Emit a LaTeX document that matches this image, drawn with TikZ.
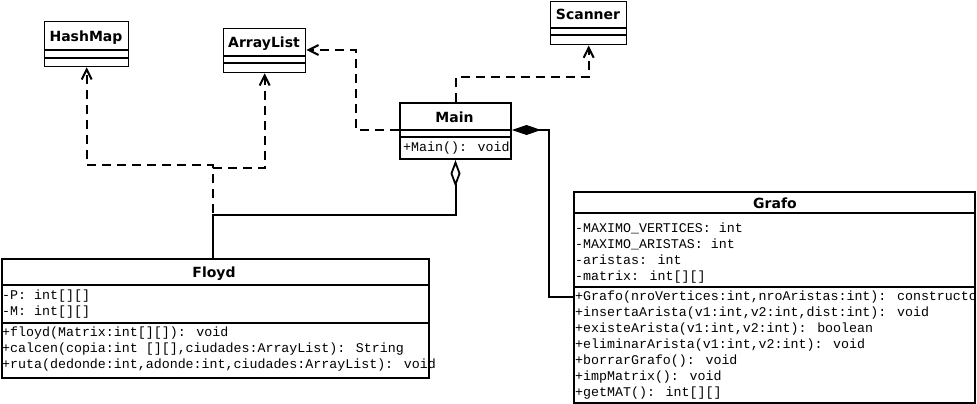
\documentclass[tikz,border=0pt]{standalone}
\usepackage{fontspec}
\usetikzlibrary{arrows.meta,calc}
\newfontfamily\ttlfont{DejaVu Sans}
\newfontfamily\memfont{Liberation Mono}
\begin{document}
\begin{tikzpicture}[x=1pt,y=-1pt,
  thinbox/.style={draw,line width=1.3pt,inner sep=0pt,anchor=north west},
  thickbox/.style={draw,line width=2pt,inner sep=0pt,anchor=north west},
  ttl/.style={anchor=base,inner sep=0pt,font=\ttlfont\bfseries\fontsize{14}{16}\selectfont},
  mem/.style={anchor=base west,inner sep=0pt,font=\memfont\fontsize{13.3}{16}\selectfont},
  dep/.style={line width=2pt,dash pattern=on 9pt off 6pt,-{Straight Barb[length=10pt,width=10pt,line width=2pt]}},
  agg/.style={line width=2pt,-{Diamond[open,fill=white,length=27pt,width=10pt,line width=1.8pt]}},
  comp/.style={line width=2pt,-{Diamond[fill=black,length=29pt,width=10pt,line width=1pt]}}]
\useasboundingbox (0,0) rectangle (977,404);
\fill[white] (0,0) rectangle (977,404);

% HashMap
\node[thinbox,minimum width=84pt,minimum height=45pt] (hashmap) at (44,21) {};
\draw[line width=1.3pt] (hashmap.west |- 0,50) -- (hashmap.east |- 0,50);
\draw[line width=1.3pt] (hashmap.west |- 0,58) -- (hashmap.east |- 0,58);
\node[ttl] (hashmapT) at (86,42) {HashMap};

% ArrayList
\node[thinbox,minimum width=82pt,minimum height=44pt] (arraylist) at (223,28) {};
\draw[line width=1.3pt] (arraylist.west |- 0,56) -- (arraylist.east |- 0,56);
\draw[line width=1.3pt] (arraylist.west |- 0,63) -- (arraylist.east |- 0,63);
\node[ttl] (arraylistT) at (264,48) {ArrayList};

% Scanner
\node[thinbox,minimum width=76pt,minimum height=43.5pt] (scanner) at (550,0.7) {};
\draw[line width=1.3pt] (scanner.west |- 0,28) -- (scanner.east |- 0,28);
\draw[line width=1.3pt] (scanner.west |- 0,35) -- (scanner.east |- 0,35);
\node[ttl] (scannerT) at (588,20) {Scanner};

% Main
\node[thickbox,minimum width=111pt,minimum height=56pt] (main) at (399,102) {};
\draw[line width=2pt] (main.west |- 0,130) -- (main.east |- 0,130);
\draw[line width=1.6pt] (main.west |- 0,137) -- (main.east |- 0,137);
\node[ttl] (mainT) at (454.5,122) {Main};
\node[mem] (mainM1) at (403,151) {+Main(): void};

% Floyd
\node[thickbox,minimum width=427pt,minimum height=119pt] (floyd) at (1,258) {};
\draw[line width=1.6pt] (floyd.west |- 0,285) -- (floyd.east |- 0,285);
\draw[line width=2pt] (floyd.west |- 0,323) -- (floyd.east |- 0,323);
\node[ttl] (floydT) at (214,277) {Floyd};
\node[mem] (fa1) at (2,299) {-P: int[][]};
\node[mem] (fa2) at (2,315) {-M: int[][]};
\node[mem] (fm1) at (2,336) {+floyd(Matrix:int[][]): void};
\node[mem] (fm2) at (2,352) {+calcen(copia:int [][],ciudades:ArrayList): String};
\node[mem] (fm3) at (2,368) {+ruta(dedonde:int,adonde:int,ciudades:ArrayList): void};

% Grafo
\node[thickbox,minimum width=401pt,minimum height=211pt] (grafo) at (573,191) {};
\draw[line width=1.6pt] (grafo.west |- 0,213) -- (grafo.east |- 0,213);
\draw[line width=2pt] (grafo.west |- 0,287) -- (grafo.east |- 0,287);
\node[ttl] (grafoT) at (775,208) {Grafo};
\node[mem] (ga1) at (575,232) {-MAXIMO\_VERTICES: int};
\node[mem] (ga2) at (575,248) {-MAXIMO\_ARISTAS: int};
\node[mem] (ga3) at (575,264) {-aristas: int};
\node[mem] (ga4) at (575,280) {-matrix: int[][]};
\node[mem] (gm1) at (575,300) {+Grafo(nroVertices:int,nroAristas:int): constructo};
\node[mem] (gm2) at (575,316) {+insertaArista(v1:int,v2:int,dist:int): void};
\node[mem] (gm3) at (575,332) {+existeArista(v1:int,v2:int): boolean};
\node[mem] (gm4) at (575,348) {+eliminarArista(v1:int,v2:int): void};
\node[mem] (gm5) at (575,364) {+borrarGrafo(): void};
\node[mem] (gm6) at (575,380) {+impMatrix(): void};
\node[mem] (gm7) at (575,396) {+getMAT(): int[][]};

% connectors
\coordinate (ftop) at (floyd.north -| 213,0);
\draw[dep] (ftop) |- (hashmap.south |- 0,165) -- (hashmap.south);
\draw[dep] (ftop) |- (arraylist.south |- 0,168) -- (arraylist.south);
\draw[agg] (ftop) |- (main.south |- 0,215) -- (main.south);
\draw[dep] (main.west |- 0,130) -- (356,130) -- (356,50) -- (arraylist.east |- 0,50);
\draw[dep] (main.north) |- (scanner.south |- 0,77) -- (scanner.south);
\draw[comp] (grafo.west |- 0,297) -| (549,130) -- (main.east |- 0,130);
\end{tikzpicture}
\end{document}
